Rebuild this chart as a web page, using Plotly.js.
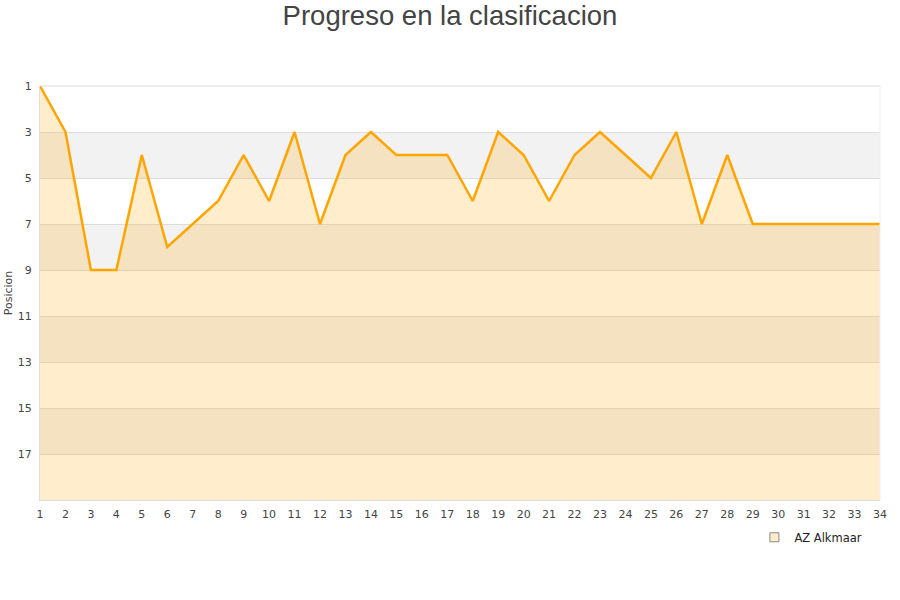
<!DOCTYPE html>
<html>
<head>
<meta charset="utf-8">
<script src="https://cdn.plot.ly/plotly-3.0.1.min.js"></script>
<style>html,body{margin:0;padding:0;background:#fff;}#chart{width:900px;height:600px;}</style>
</head>
<body>
<div id="chart"></div>
<script>
const jornadas = [1,2,3,4,5,6,7,8,9,10,11,12,13,14,15,16,17,18,19,20,21,22,23,24,25,26,27,28,29,30,31,32,33,34];
const posicion = [1,3,9,9,4,8,7,6,4,6,3,7,4,3,4,4,4,6,3,4,6,4,3,4,5,3,7,4,7,7,7,7,7,7];
const equipo = "AZ Alkmaar";
const fondo = 19;
const bandas = [[3,5],[7,9],[11,13],[15,17]];
const yTicks = [1,3,5,7,9,11,13,15,17];

const baseline = jornadas.map(() => fondo);

const traces = [
  {x: jornadas, y: baseline, mode: 'lines', line: {width: 0, color: 'rgba(0,0,0,0)'}, showlegend: false, hoverinfo: 'skip'},
  {x: jornadas, y: posicion, mode: 'lines', fill: 'tonexty', fillcolor: 'rgba(255,165,0,0.2)',
   line: {color: '#ffa500', width: 2.5}, name: equipo, showlegend: false},
  {x: [null], y: [null], mode: 'markers', name: equipo,
   marker: {symbol: 'square', size: 9, color: '#ffedcc', line: {color: '#888', width: 1}}}
];

const shapes = bandas.map(b => ({
  type: 'rect', xref: 'paper', yref: 'y', x0: 0, x1: 1, y0: b[0], y1: b[1],
  fillcolor: '#f2f2f2', line: {width: 0}, layer: 'below'
}));
shapes.push({type: 'line', xref: 'paper', yref: 'paper', x0: 0, x1: 1, y0: 1, y1: 1, line: {color: '#dddddd', width: 1}});
shapes.push({type: 'line', xref: 'paper', yref: 'paper', x0: 1, x1: 1, y0: 0, y1: 1, line: {color: '#eeeeee', width: 1}});

const layout = {
  width: 900, height: 600,
  paper_bgcolor: '#fff', plot_bgcolor: '#fff',
  margin: {l: 40, r: 20, t: 86, b: 100},
  title: {text: 'Progreso en la clasificacion', x: 0.5, xanchor: 'center', y: 0.99, yanchor: 'top',
          font: {family: 'Liberation Sans, Arial, sans-serif', size: 27.5, color: '#444'}},
  font: {family: 'DejaVu Sans, sans-serif', size: 11, color: '#444'},
  xaxis: {range: [1, 34], tickmode: 'array', tickvals: jornadas, ticktext: jornadas.map(String),
          showgrid: false, zeroline: false, showline: true, linecolor: '#dddddd', linewidth: 1,
          ticks: '', ticklabelstandoff: 4, tickfont: {size: 11, color: '#444'}, fixedrange: true},
  yaxis: {range: [fondo, 1], tickmode: 'array', tickvals: yTicks, ticktext: yTicks.map(String),
          showgrid: true, gridcolor: '#dddddd', gridwidth: 1, zeroline: false, showline: true,
          linecolor: '#dddddd', linewidth: 1, ticks: '', ticklen: 0, ticklabelstandoff: 5,
          tickfont: {size: 11, color: '#444'},
          title: {text: 'Posicion', font: {size: 11, color: '#444'}, standoff: 2}},
  shapes: shapes,
  showlegend: true,
  legend: {x: 0.985, xanchor: 'right', y: -0.055, yanchor: 'top', orientation: 'h',
           font: {size: 11.5, color: '#222'}, bgcolor: 'rgba(0,0,0,0)'}
};

Plotly.newPlot('chart', traces, layout, {displayModeBar: false, staticPlot: true});
</script>
</body>
</html>
